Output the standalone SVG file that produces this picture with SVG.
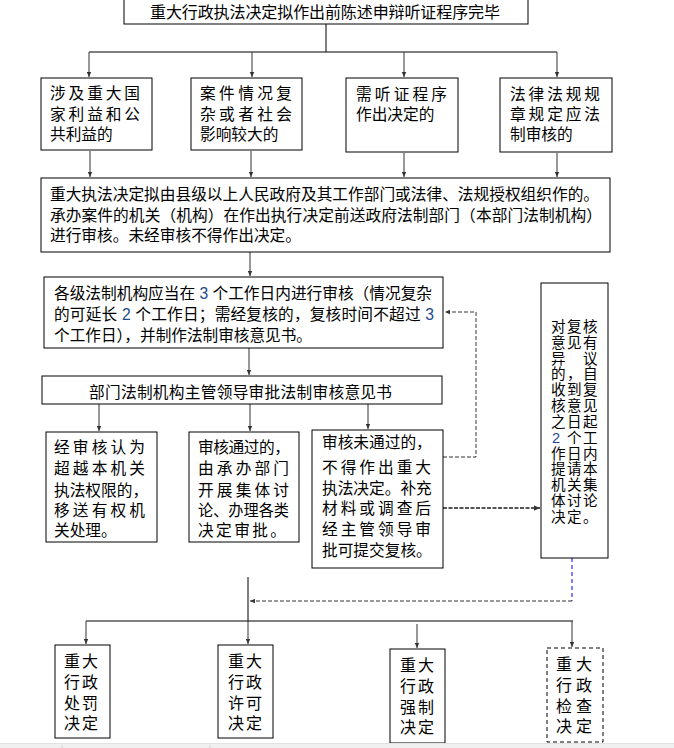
<svg xmlns="http://www.w3.org/2000/svg" width="674" height="748" viewBox="0 0 674 748">
<style>
.box{fill:#fff;stroke:#000;stroke-width:1}
.dbox{fill:#fff;stroke:#000;stroke-width:1;stroke-dasharray:4 3}
.t{font-family:"Liberation Sans","Noto Sans CJK SC",sans-serif;font-size:15.7px;fill:#000;dominant-baseline:central}
.s{font-size:16px}
.v{font-size:14.6px}
.num{fill:#1e4a8c}
.ln{fill:none;stroke:#333;stroke-width:1}
.ln2{fill:none;stroke:#000;stroke-width:1}
.dash{fill:none;stroke:#333;stroke-width:1;stroke-dasharray:4 2}
.dash2{fill:none;stroke:#555;stroke-width:2;stroke-dasharray:4 1.5}
.blue{fill:none;stroke:#0000ff;stroke-width:1;stroke-dasharray:4 3}
</style>
<defs>
<marker id="ah" viewBox="0 0 8 8" refX="8" refY="4" markerWidth="5" markerHeight="5" markerUnits="userSpaceOnUse" orient="auto">
<path d="M0,0.5 L8,4 L0,7.5 z" fill="#333"/>
</marker>
<marker id="ah2" viewBox="0 0 8 8" refX="8" refY="4" markerWidth="6" markerHeight="6" markerUnits="userSpaceOnUse" orient="auto">
<path d="M0,0.5 L8,4 L0,7.5 z" fill="#333"/>
</marker>
</defs>
<rect width="674" height="748" fill="#fff"/>

<g id="connectors">
<path class="ln2" d="M326,24 V52 M89,52 H557"/>
<path class="ln" d="M89,52 V77" marker-end="url(#ah)"/>
<path class="ln" d="M252,52 V77" marker-end="url(#ah)"/>
<path class="ln" d="M404,52 V77" marker-end="url(#ah)"/>
<path class="ln" d="M557,52 V77" marker-end="url(#ah)"/>
<path class="ln" d="M90,151 V177" marker-end="url(#ah)"/>
<path class="ln" d="M251,151 V177" marker-end="url(#ah)"/>
<path class="ln" d="M404,153 V177" marker-end="url(#ah)"/>
<path class="ln" d="M557,153 V177" marker-end="url(#ah)"/>
<path class="ln" d="M250,252 V276" marker-end="url(#ah)"/>
<path class="ln" d="M249,348 V375" marker-end="url(#ah)"/>
<path class="ln" d="M99,404 V431" marker-end="url(#ah)"/>
<path class="ln" d="M250,404 V431" marker-end="url(#ah)"/>
<path class="ln" d="M368,404 V429" marker-end="url(#ah)"/>
<path class="dash" d="M443,457 H476 V312 H445" marker-end="url(#ah)"/>
<path class="dash2" d="M443,508 H540" marker-end="url(#ah2)"/>
<path class="blue" d="M572,558 V601"/>
<path class="dash" d="M572,601 H250" marker-end="url(#ah)"/>
<path class="ln2" d="M248,577 V621 M86,621 H573"/>
<path class="ln" d="M86,621 V644" marker-end="url(#ah)"/>
<path class="ln" d="M248,621 V644" marker-end="url(#ah)"/>
<path class="ln" d="M417,624 V648" marker-end="url(#ah)"/>
<path class="ln" d="M572,621 V647" marker-end="url(#ah)"/>
</g>

<g id="n-top">
<rect class="box" x="124" y="-1" width="404" height="25"/>
<text class="t s" x="150" y="12" textLength="350" lengthAdjust="spacing">重大行政执法决定拟作出前陈述申辩听证程序完毕</text>
</g>

<g id="n-c1">
<rect class="box" x="41" y="78" width="111" height="72"/>
<text class="t" x="50" y="93" textLength="90" lengthAdjust="spacing">涉及重大国</text>
<text class="t" x="50" y="114" textLength="90" lengthAdjust="spacing">家利益和公</text>
<text class="t" x="50" y="134">共利益的</text>
</g>
<g id="n-c2">
<rect class="box" x="191" y="78" width="111" height="72"/>
<text class="t" x="200" y="93" textLength="92" lengthAdjust="spacing">案件情况复</text>
<text class="t" x="200" y="114" textLength="92" lengthAdjust="spacing">杂或者社会</text>
<text class="t" x="200" y="134">影响较大的</text>
</g>
<g id="n-c3">
<rect class="box" x="346" y="78" width="112" height="74"/>
<text class="t" x="356" y="94" textLength="91" lengthAdjust="spacing">需听证程序</text>
<text class="t" x="356" y="114">作出决定的</text>
</g>
<g id="n-c4">
<rect class="box" x="500" y="78" width="112" height="74"/>
<text class="t" x="510" y="94" textLength="90" lengthAdjust="spacing">法律法规规</text>
<text class="t" x="510" y="114" textLength="90" lengthAdjust="spacing">章规定应法</text>
<text class="t" x="510" y="134">制审核的</text>
</g>

<g id="n-review">
<rect class="box" x="41" y="178" width="569" height="74"/>
<text class="t" x="50" y="194" textLength="549" lengthAdjust="spacing">重大执法决定拟由县级以上人民政府及其工作部门或法律、法规授权组织作的。</text>
<text class="t" x="50" y="215" textLength="552" lengthAdjust="spacing">承办案件的机关（机构）在作出执行决定前送政府法制部门（本部门法制机构）</text>
<text class="t" x="50" y="235">进行审核。未经审核不得作出决定。</text>
</g>

<g id="n-days">
<rect class="box" x="44" y="277" width="399" height="71"/>
<text class="t" x="54" y="293" textLength="378" lengthAdjust="spacing">各级法制机构应当在 <tspan class="num">3</tspan> 个工作日内进行审核（情况复杂</text>
<text class="t" x="54" y="314" textLength="380" lengthAdjust="spacing">的可延长 <tspan class="num">2</tspan> 个工作日；需经复核的，复核时间不超过 <tspan class="num">3</tspan></text>
<text class="t" x="54" y="335" textLength="258" lengthAdjust="spacingAndGlyphs">个工作日），并制作法制审核意见书。</text>
</g>

<g id="n-approve">
<rect class="box" x="42" y="376" width="400" height="28"/>
<text class="t" x="89" y="392" textLength="303" lengthAdjust="spacing">部门法制机构主管领导审批法制审核意见书</text>
</g>

<g id="n-transfer">
<rect class="box" x="46" y="432" width="111" height="110"/>
<text class="t" x="54" y="447" textLength="91" lengthAdjust="spacing">经审核认为</text>
<text class="t" x="54" y="468" textLength="91" lengthAdjust="spacing">超越本机关</text>
<text class="t" x="54" y="490">执法权限的，</text>
<text class="t" x="54" y="510" textLength="91" lengthAdjust="spacing">移送有权机</text>
<text class="t" x="54" y="530">关处理。</text>
</g>

<g id="n-passed">
<rect class="box" x="189" y="432" width="110" height="110"/>
<text class="t" x="198" y="447" textLength="92" lengthAdjust="spacing">审核通过的，</text>
<text class="t" x="198" y="468" textLength="91" lengthAdjust="spacing">由承办部门</text>
<text class="t" x="198" y="490" textLength="91" lengthAdjust="spacing">开展集体讨</text>
<text class="t" x="198" y="510" textLength="91" lengthAdjust="spacingAndGlyphs">论、办理各类</text>
<text class="t" x="198" y="530" textLength="88" lengthAdjust="spacing">决定审批。</text>
</g>

<g id="n-failed">
<rect class="box" x="312" y="430" width="131" height="138"/>
<text class="t" x="322" y="442">审核未通过的，</text>
<text class="t" x="322" y="467" textLength="109" lengthAdjust="spacing">不得作出重大</text>
<text class="t" x="322" y="488">执法决定。补充</text>
<text class="t" x="322" y="508" textLength="109" lengthAdjust="spacing">材料或调查后</text>
<text class="t" x="322" y="529" textLength="109" lengthAdjust="spacing">经主管领导审</text>
<text class="t" x="322" y="550">批可提交复核。</text>
</g>

<g id="n-objection">
<rect class="box" x="541" y="283" width="67" height="275"/>
<text class="t v" x="551 567 583" y="327">对复核</text>
<text class="t v" x="551 567 583" y="343">意见有</text>
<text class="t v" x="551" y="359">异</text>
<text class="t v" x="583" y="359">议</text>
<text class="t v" x="551 567 583" y="374">的，自</text>
<text class="t v" x="551 567 583" y="390">收到复</text>
<text class="t v" x="551 567 583" y="406">核意见</text>
<text class="t v" x="551 567 583" y="422">之日起</text>
<text class="t v" x="552" y="438"><tspan class="num">2</tspan></text>
<text class="t v" x="567 583" y="438">个工</text>
<text class="t v" x="551 567 583" y="454">作日内</text>
<text class="t v" x="551 567 583" y="469">提请本</text>
<text class="t v" x="551 567 583" y="485">机关集</text>
<text class="t v" x="551 567 583" y="501">体讨论</text>
<text class="t v" x="551 567 583" y="517">决定。</text>
</g>

<g id="n-penalty">
<rect class="box" x="55" y="645" width="55" height="93"/>
<text class="t s" x="64" y="661" textLength="34" lengthAdjust="spacing">重大</text>
<text class="t s" x="64" y="682" textLength="34" lengthAdjust="spacing">行政</text>
<text class="t s" x="64" y="703" textLength="34" lengthAdjust="spacing">处罚</text>
<text class="t s" x="64" y="723" textLength="34" lengthAdjust="spacing">决定</text>
</g>
<g id="n-permit">
<rect class="box" x="218" y="645" width="55" height="93"/>
<text class="t s" x="228" y="661" textLength="34" lengthAdjust="spacing">重大</text>
<text class="t s" x="228" y="682" textLength="34" lengthAdjust="spacing">行政</text>
<text class="t s" x="228" y="703" textLength="34" lengthAdjust="spacing">许可</text>
<text class="t s" x="228" y="723" textLength="34" lengthAdjust="spacing">决定</text>
</g>
<g id="n-enforce">
<rect class="box" x="390" y="649" width="55" height="94"/>
<text class="t s" x="400" y="665" textLength="34" lengthAdjust="spacing">重大</text>
<text class="t s" x="400" y="686" textLength="34" lengthAdjust="spacing">行政</text>
<text class="t s" x="400" y="707" textLength="34" lengthAdjust="spacing">强制</text>
<text class="t s" x="400" y="727" textLength="34" lengthAdjust="spacing">决定</text>
</g>
<g id="n-inspect">
<rect class="dbox" x="547" y="648" width="56" height="94"/>
<text class="t s" x="556" y="664" textLength="36" lengthAdjust="spacing">重大</text>
<text class="t s" x="556" y="685" textLength="36" lengthAdjust="spacing">行政</text>
<text class="t s" x="556" y="706" textLength="36" lengthAdjust="spacing">检查</text>
<text class="t s" x="556" y="726" textLength="36" lengthAdjust="spacing">决定</text>
</g>

<rect x="0" y="743" width="674" height="5" fill="#f0f0f0"/>
<path d="M0,743.5 H674" stroke="#e2e2e2" stroke-width="1"/>
<path d="M62,745 V748 M210,745 V748" stroke="#d6d6d6" stroke-width="1"/>
</svg>
